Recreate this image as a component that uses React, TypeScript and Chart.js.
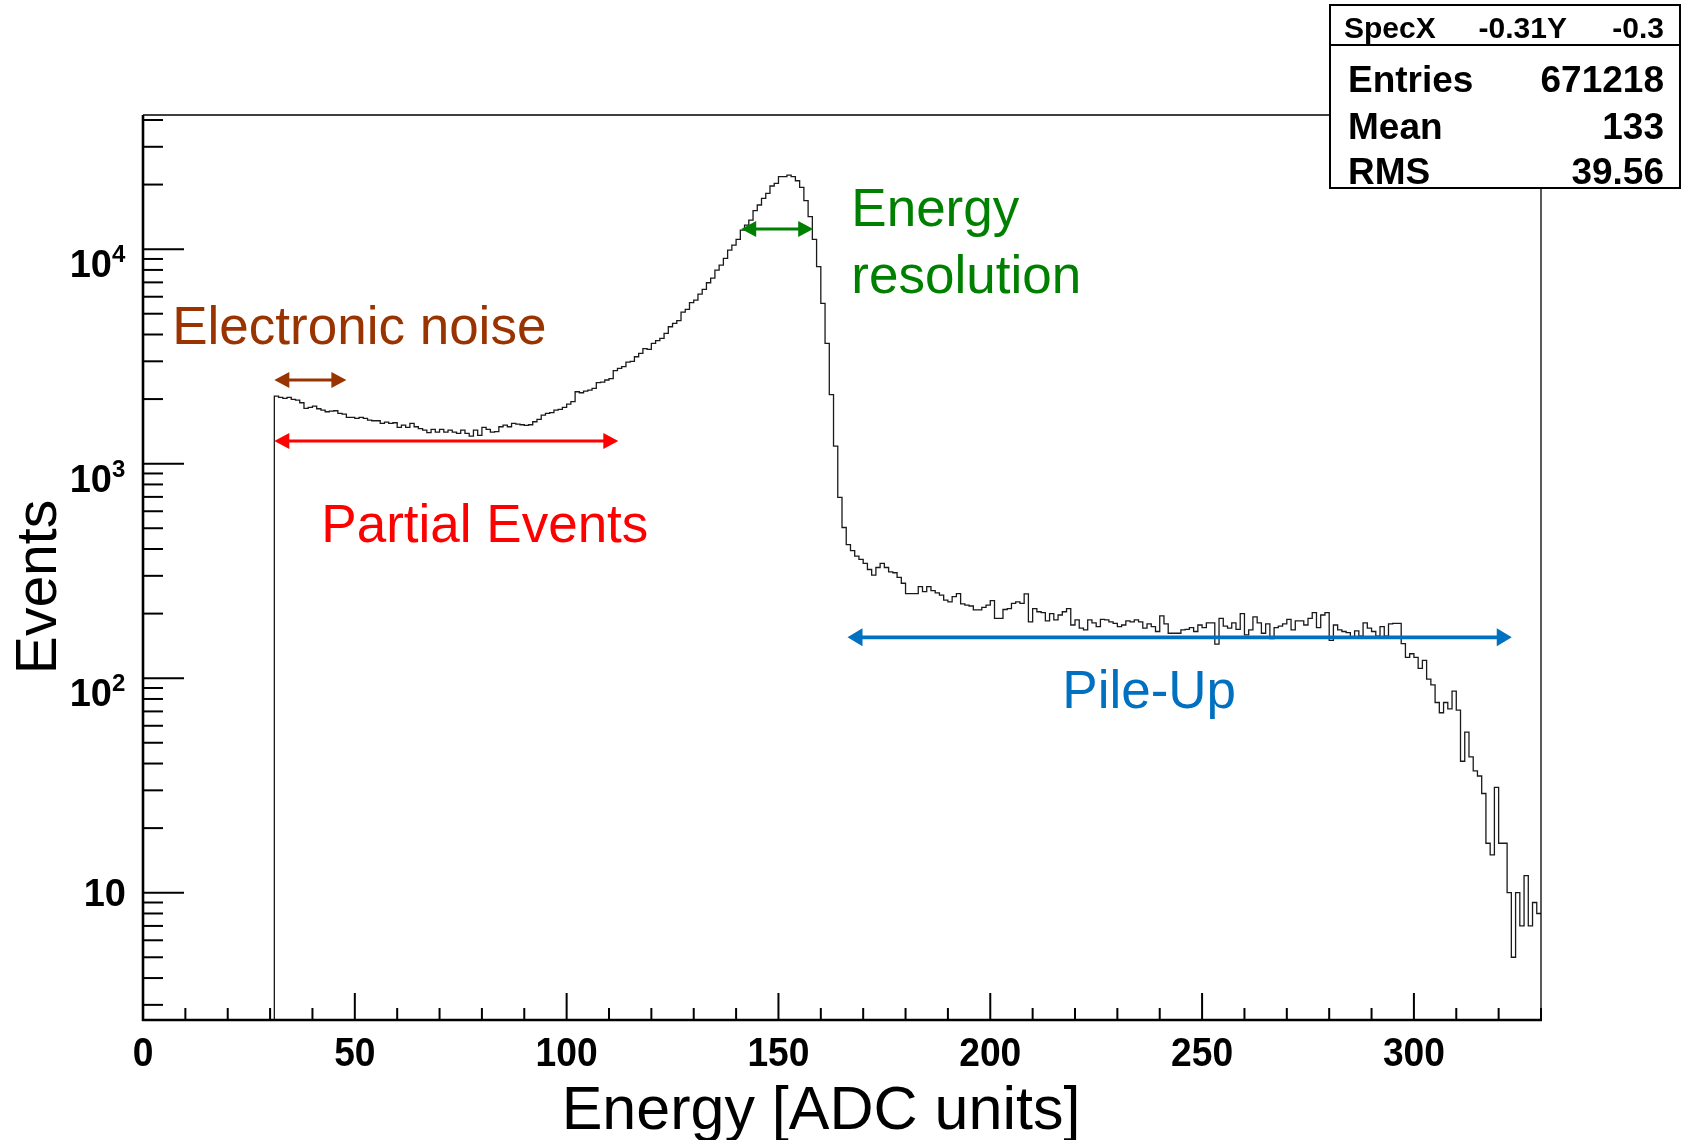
import React, { useEffect, useRef } from "react";
import { Chart, registerables } from "chart.js";

Chart.register(...registerables);

const FONT = "'Liberation Sans', Arial, Helvetica, sans-serif";

// ---- histogram data (1 ADC-unit bins, first filled bin starts at 31) ----
const binStart = 31;
const binWidth = 1;
const counts: number[] = [
  2066, 2037, 2015, 2037, 1993, 1978, 1923, 1810, 1829, 1856,
  1803, 1777, 1746, 1759, 1765, 1715, 1703, 1643, 1643, 1626,
  1643, 1626, 1597, 1585, 1585, 1540, 1563, 1540, 1551, 1476,
  1513, 1476, 1540, 1486, 1455, 1434, 1394, 1444, 1404, 1444,
  1404, 1434, 1404, 1384, 1434, 1384, 1344, 1434, 1354, 1476,
  1444, 1404, 1409, 1486, 1513, 1486, 1540, 1529, 1518, 1507,
  1518, 1568, 1608, 1685, 1715, 1728, 1777, 1790, 1829, 1896,
  1945, 2164, 2141, 2180, 2203, 2243, 2384, 2400, 2454, 2489,
  2713, 2781, 2831, 2976, 3000, 3151, 3266, 3434, 3410, 3637,
  3743, 3837, 4049, 4348, 4507, 4638, 5090, 5238, 5627, 5790,
  6176, 6493, 6973, 7333, 7990, 8432, 9057, 9904, 10450, 11104,
  12277, 12954, 13668, 15111, 16057, 17247, 18197, 19690, 20260, 21763,
  21763, 22155, 21763, 20840, 19410, 16820, 14165, 11104, 8282, 5587,
  3637, 2096, 1208, 696, 504, 419, 393, 371, 358, 343,
  321, 302, 328, 343, 328, 313, 310, 295, 277, 248,
  248, 248, 267, 253, 267, 256, 250, 244, 231, 227,
  240, 248, 222, 219, 217, 208, 208, 214, 219, 230,
  190, 190, 209, 211, 223, 227, 223, 247, 183, 211,
  204, 202, 185, 200, 187, 197, 204, 211, 177, 187,
  171, 168, 187, 181, 174, 188, 187, 183, 180, 174,
  177, 185, 183, 187, 183, 171, 179, 174, 165, 195,
  179, 162, 162, 162, 168, 169, 172, 165, 177, 172,
  181, 181, 144, 190, 175, 171, 181, 169, 200, 159,
  168, 193, 181, 162, 179, 153, 172, 175, 179, 188,
  168, 185, 185, 177, 190, 202, 172, 197, 202, 150,
  177, 168, 165, 163, 156, 166, 157, 181, 171, 165,
  157, 174, 157, 179, 180, 180, 145, 125, 130, 125,
  111, 121, 99, 93, 77, 69, 77, 72, 87, 71,
  41, 56, 43, 37, 35, 29, 17, 15, 31, 17,
  17, 10, 5, 10, 7, 12, 7, 9, 8,
];

// ---- axes ----
const xMin = 0;
const xMax = 330;
const yMin = 2.55;
const yMax = 42200;
const xLabelValues = [0, 50, 100, 150, 200, 250, 300];
const xMinorStep = 10;
const yLabelValues = [10, 100, 1000, 10000];
const yLabelExponents = ["", "2", "3", "4"];
const xTitle = "Energy [ADC units]";
const yTitle = "Events";

// ---- stats box ----
const statsHeader = ["SpecX", "-0.31Y", "-0.3"];
const statsNames = ["Entries", "Mean", "RMS"];
const statsValues = ["671218", "133", "39.56"];

// ---- annotations (x in ADC units, y in events) ----
const arrowFrom = [31, 31, 141.2, 166.3];
const arrowTo = [48, 112.2, 158.2, 323.1];
const arrowAt = [2455, 1274, 12410, 155];
const arrowColors = ["#993300", "#ff0000", "#008000", "#0070c0"];

const noteTexts = ["Electronic noise", "Partial Events", "Energy", "resolution", "Pile-Up"];
const noteX = [6.9, 42.1, 167.2, 167.2, 217.0];
const noteY = [3611, 431, 12812, 6243, 72.6];
const noteColors = ["#993300", "#ff0000", "#008000", "#008000", "#0070c0"];

function drawText(
  ctx: CanvasRenderingContext2D,
  s: string,
  x: number,
  y: number,
  font: string,
  align: CanvasTextAlign,
  color = "#000",
  sx = 1
) {
  ctx.save();
  ctx.translate(x, y);
  ctx.scale(sx, 1);
  ctx.font = font;
  ctx.textAlign = align;
  ctx.textBaseline = "alphabetic";
  ctx.fillStyle = color;
  ctx.fillText(s, 0, 0);
  ctx.restore();
}

function seg(ctx: CanvasRenderingContext2D, x1: number, y1: number, x2: number, y2: number) {
  ctx.beginPath();
  ctx.moveTo(x1, y1);
  ctx.lineTo(x2, y2);
  ctx.stroke();
}

function drawArrow(ctx: CanvasRenderingContext2D, x1: number, x2: number, y: number, color: string, lw: number) {
  const head = 15;
  const half = lw > 3 ? 9 : 8;
  ctx.save();
  ctx.strokeStyle = color;
  ctx.fillStyle = color;
  ctx.lineWidth = lw;
  seg(ctx, x1 + head - 2, y, x2 - head + 2, y);
  ctx.beginPath();
  ctx.moveTo(x1, y);
  ctx.lineTo(x1 + head, y - half);
  ctx.lineTo(x1 + head, y + half);
  ctx.closePath();
  ctx.fill();
  ctx.beginPath();
  ctx.moveTo(x2, y);
  ctx.lineTo(x2 - head, y - half);
  ctx.lineTo(x2 - head, y + half);
  ctx.closePath();
  ctx.fill();
  ctx.restore();
}

const overlayPlugin = {
  id: "rootOverlay",
  afterDraw(chart: any) {
    const { ctx, chartArea: ca } = chart;
    const xs = chart.scales.x;
    const ys = chart.scales.y;
    ctx.save();
    ctx.strokeStyle = "#000";
    ctx.lineCap = "butt";

    // y ticks (inside)
    ctx.lineWidth = 2;
    for (const t of ys.ticks) {
      const py = ys.getPixelForValue(t.value);
      const len = t.major ? 41 : 20;
      seg(ctx, ca.left, py, ca.left + len, py);
    }
    // x ticks (inside)
    for (let v = xMin; v <= xMax; v += xMinorStep) {
      const px = xs.getPixelForValue(v);
      const len = v % 50 === 0 ? 27 : 12;
      seg(ctx, px, ca.bottom, px, ca.bottom - len);
    }

    // frame
    ctx.lineWidth = 1.3;
    seg(ctx, ca.left, ca.top, ca.right, ca.top);
    seg(ctx, ca.right, ca.top, ca.right, ca.bottom);
    ctx.lineWidth = 2.6;
    seg(ctx, ca.left, ca.top, ca.left, ca.bottom + 1);
    seg(ctx, ca.left - 1, ca.bottom, ca.right + 1, ca.bottom);

    // x tick labels
    for (const v of xLabelValues) {
      const px = xs.getPixelForValue(v);
      drawText(ctx, String(v), px, 1066, `bold 40px ${FONT}`, "center", "#000", 0.93);
    }
    // y tick labels
    yLabelValues.forEach((v, i) => {
      const py = ys.getPixelForValue(v);
      const exp = yLabelExponents[i];
      if (!exp) {
        drawText(ctx, "10", 126, py + 13.5, `bold 38px ${FONT}`, "right");
      } else {
        drawText(ctx, "10", 112, py + 28, `bold 38px ${FONT}`, "right");
        drawText(ctx, exp, 112, py + 13, `bold 24px ${FONT}`, "left");
      }
    });

    // axis titles
    drawText(ctx, xTitle, 821, 1129, `61px ${FONT}`, "center");
    ctx.save();
    ctx.translate(56, 587);
    ctx.rotate(-Math.PI / 2);
    drawText(ctx, yTitle, 0, 0, `57px ${FONT}`, "center");
    ctx.restore();

    // annotations
    arrowFrom.forEach((a, i) => {
      const x1 = xs.getPixelForValue(a);
      const x2 = xs.getPixelForValue(arrowTo[i]);
      const y = ys.getPixelForValue(arrowAt[i]);
      drawArrow(ctx, x1, x2, y, arrowColors[i], i === 3 ? 3.6 : 3);
    });
    noteTexts.forEach((s, i) => {
      drawText(ctx, s, xs.getPixelForValue(noteX[i]), ys.getPixelForValue(noteY[i]), `53px ${FONT}`, "left", noteColors[i]);
    });

    // stats box
    const bx = 1330, by = 5, bw = 350, bh = 183;
    ctx.fillStyle = "#fff";
    ctx.fillRect(bx, by, bw, bh);
    ctx.lineWidth = 2;
    ctx.strokeStyle = "#000";
    ctx.strokeRect(bx, by, bw, bh);
    seg(ctx, bx, 45, bx + bw, 45);
    drawText(ctx, statsHeader[0], 1344, 38, `bold 30px ${FONT}`, "left");
    drawText(ctx, statsHeader[1], 1567, 38, `bold 30px ${FONT}`, "right");
    drawText(ctx, statsHeader[2], 1664, 38, `bold 30px ${FONT}`, "right");
    const rowBase = [92, 139, 184];
    statsNames.forEach((n, i) => {
      drawText(ctx, n, 1348, rowBase[i], `bold 37px ${FONT}`, "left");
      drawText(ctx, statsValues[i], 1664, rowBase[i], `bold 37px ${FONT}`, "right");
    });

    ctx.restore();
  },
};

export default function App() {
  const ref = useRef<HTMLCanvasElement | null>(null);

  useEffect(() => {
    if (!ref.current) return;
    const points: { x: number; y: number }[] = [{ x: binStart, y: yMin / 10 }];
    counts.forEach((c, i) => points.push({ x: binStart + i * binWidth, y: c }));
    points.push({ x: binStart + counts.length * binWidth, y: counts[counts.length - 1] });

    const chart = new Chart(ref.current, {
      type: "line",
      data: {
        datasets: [
          {
            data: points,
            borderColor: "#1a1a1a",
            borderWidth: 1.3,
            pointRadius: 0,
            stepped: "before",
            fill: false,
            tension: 0,
          } as any,
        ],
      },
      options: {
        animation: false,
        responsive: false,
        devicePixelRatio: 1,
        layout: { padding: { left: 0, top: 115, right: 144, bottom: 0 } },
        plugins: {
          legend: { display: false },
          tooltip: { enabled: false },
        },
        scales: {
          x: {
            type: "linear",
            min: xMin,
            max: xMax,
            ticks: { display: false },
            grid: { display: false },
            border: { display: false },
            afterFit: (s: any) => {
              s.height = 120;
            },
          },
          y: {
            type: "logarithmic",
            min: yMin,
            max: yMax,
            ticks: { display: false },
            grid: { display: false },
            border: { display: false },
            afterFit: (s: any) => {
              s.width = 143;
            },
            afterBuildTicks: (s: any) => {
              const ticks: { value: number; major: boolean }[] = [];
              for (let k = 0; k <= 5; k++) {
                for (let m = 1; m <= 9; m++) {
                  const v = m * Math.pow(10, k);
                  if (v >= yMin && v <= yMax) ticks.push({ value: v, major: m === 1 });
                }
              }
              s.ticks = ticks;
            },
          },
        },
      } as any,
      plugins: [overlayPlugin],
    });
    return () => chart.destroy();
  }, []);

  return (
    <div style={{ position: "absolute", left: 0, top: 0, width: 1685, height: 1140, background: "#fff" }}>
      <canvas ref={ref} width={1685} height={1140} style={{ width: 1685, height: 1140, display: "block" }} />
    </div>
  );
}
